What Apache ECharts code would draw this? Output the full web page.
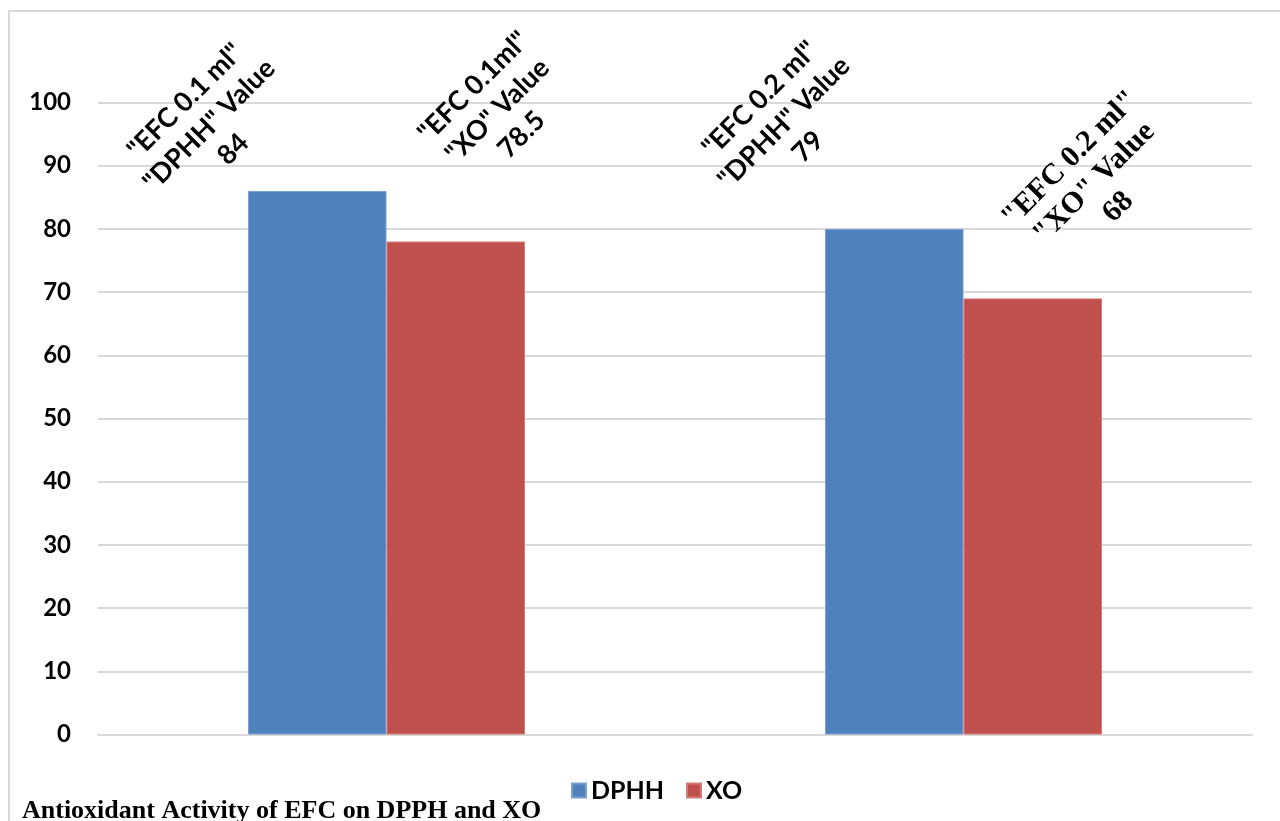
<!DOCTYPE html>
<html>
<head>
<meta charset="utf-8">
<script src="https://cdn.jsdelivr.net/npm/echarts@6/dist/echarts.min.js"></script>
<style>
html,body{margin:0;padding:0;background:#fff;}
#chart{width:1280px;height:821px;}
</style>
</head>
<body>
<div id="chart"></div>
<script>
const categories = ['EFC 0.1 ml', 'EFC 0.2 ml'];
const seriesNames = ['DPHH', 'XO'];
const dpphValues = [86, 80];
const xoValues = [78, 69];
const dpphLabels = ['"EFC 0.1 ml"\n"DPHH" Value\n84', '"EFC 0.2 ml"\n"DPHH" Value\n79'];
const xoLabels = ['"EFC 0.1ml"\n"XO" Value\n78.5', '"EFC 0.2 ml"\n"XO" Value\n68'];
const yTicks = [0, 10, 20, 30, 40, 50, 60, 70, 80, 90, 100];
const chartTitle = 'Antioxidant Activity of EFC on DPPH and XO';

// label placement (style only)
const dpphLabelStyle = [
  {offset: [-30, -123], fontFamily: 'Lato', fontSize: 27, lineHeight: 34},
  {offset: [-3, -153], fontFamily: 'Lato', fontSize: 27, lineHeight: 34}
];
const xoLabelStyle = [
  {offset: [122, -63], fontFamily: 'Lato', fontSize: 27, lineHeight: 34},
  {offset: [125, -38], fontFamily: 'Liberation Serif', fontSize: 30, lineHeight: 34}
];

function buildData(values, labels, styles) {
  return values.map((v, i) => ({
    value: v,
    label: {
      formatter: labels[i],
      offset: styles[i].offset,
      fontFamily: styles[i].fontFamily,
      fontSize: styles[i].fontSize,
      lineHeight: styles[i].lineHeight
    }
  }));
}

const chart = echarts.init(document.getElementById('chart'), null, {renderer: 'canvas'});
const baseLabel = {
  show: true,
  position: 'top',
  distance: 0,
  rotate: 45,
  align: 'center',
  verticalAlign: 'middle',
  fontSize: 27,
  fontWeight: 'bold',
  lineHeight: 34,
  color: '#000'
};
chart.setOption({
  animation: false,
  backgroundColor: '#fff',
  graphic: [{
    type: 'rect',
    shape: {x: 9, y: 11, width: 1400, height: 900},
    style: {fill: 'none', stroke: '#d9d9d9', lineWidth: 2},
    silent: true
  }],
  title: {
    text: chartTitle,
    left: 17,
    top: 793,
    textStyle: {fontFamily: 'Liberation Serif', fontWeight: 'bold', fontSize: 26, color: '#000'}
  },
  legend: {
    data: seriesNames,
    left: 566,
    top: 773,
    icon: 'rect',
    itemWidth: 14,
    itemHeight: 14,
    itemGap: 22,
    textStyle: {fontFamily: 'Lato', fontWeight: 'bold', fontSize: 25, color: '#000'}
  },
  grid: {left: 98, right: 28, top: 102.5, bottom: 86.5, containLabel: false},
  xAxis: {
    type: 'category',
    data: categories,
    axisLine: {show: true, lineStyle: {color: '#d9d9d9', width: 2}},
    axisTick: {show: false},
    axisLabel: {show: false}
  },
  yAxis: {
    type: 'value',
    min: yTicks[0],
    max: yTicks[yTicks.length - 1],
    interval: 10,
    axisLine: {show: false},
    axisTick: {show: false},
    axisLabel: {
      margin: 27,
      fontFamily: 'Lato',
      fontWeight: 'bold',
      fontSize: 24,
      color: '#000'
    },
    splitLine: {lineStyle: {color: '#d9d9d9', width: 2}}
  },
  series: [
    {
      name: seriesNames[0],
      type: 'bar',
      barGap: '0%',
      barCategoryGap: '52%',
      itemStyle: {color: '#4F81BD', borderColor: '#7a9fd0', borderWidth: 1},
      label: baseLabel,
      data: buildData(dpphValues, dpphLabels, dpphLabelStyle)
    },
    {
      name: seriesNames[1],
      type: 'bar',
      itemStyle: {color: '#C0504D', borderColor: '#d37a77', borderWidth: 1},
      label: baseLabel,
      data: buildData(xoValues, xoLabels, xoLabelStyle)
    }
  ]
});
</script>
</body>
</html>
